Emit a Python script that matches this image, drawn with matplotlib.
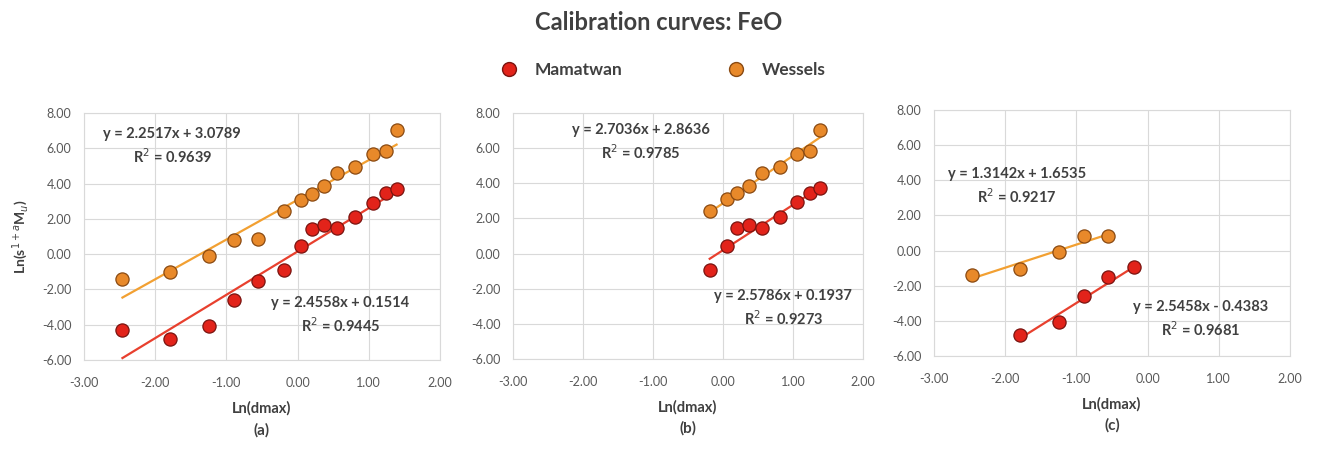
import matplotlib
matplotlib.use("Agg")
import matplotlib.pyplot as plt
from matplotlib.lines import Line2D
import numpy as np

plt.rcParams['font.family'] = ['Lato', 'DejaVu Sans']

# ln(dmax) of each size class
ln_dmax = [-2.46, -1.79, -1.25, -0.90, -0.55, -0.19, 0.05, 0.20, 0.37, 0.56, 0.81, 1.06, 1.24, 1.39]
wessels = [-1.41, -1.03, -0.10, 0.82, 0.85, 2.43, 3.08, 3.42, 3.84, 4.61, 4.94, 5.66, 5.85, 7.03]
mamatwan = [-4.31, -4.79, -4.07, -2.60, -1.52, -0.91, 0.44, 1.44, 1.63, 1.48, 2.09, 2.91, 3.47, 3.72]

# index ranges used for each panel (start, stop)
panel_names = ['(a)', '(b)', '(c)']
mam_range = [(0, 14), (5, 14), (1, 6)]
wes_range = [(0, 14), (5, 14), (0, 5)]

# trendline coefficients (slope, intercept, r2) as printed on the chart
mam_fit = [(2.4558, 0.1514, 0.9445), (2.5786, 0.1937, 0.9273), (2.5458, -0.4383, 0.9681)]
wes_fit = [(2.2517, 3.0789, 0.9639), (2.7036, 2.8636, 0.9785), (1.3142, 1.6535, 0.9217)]

# label positions in data coords
mam_txt = [(0.60, -3.5), (0.86, -3.1), (0.75, -3.9)]
wes_txt = [(-1.76, 6.1), (-1.17, 6.3), (-1.84, 3.65)]

red_face, red_edge, red_line = '#e2231a', '#7a1410', '#e8402e'
org_face, org_edge, org_line = '#e8892a', '#8a4a12', '#f2a032'
txt_col = '#404040'

W, H = 1317, 450
fig = plt.figure(figsize=(W / 100, H / 100), dpi=100)

# axes boxes in pixels: left, right, top, bottom
boxes = [(84, 440, 113, 360), (513, 863, 113, 359), (934, 1290, 110, 356)]


def fmt_eq(m, b):
    sign = '+' if b >= 0 else '-'
    return 'y = %.4fx %s %.4f' % (m, sign, abs(b))


for i, (l, r, t, b) in enumerate(boxes):
    ax = fig.add_axes([l / W, 1 - b / H, (r - l) / W, (b - t) / H])
    ax.set_xlim(-3, 2)
    ax.set_ylim(-6, 8)
    ax.set_xticks(np.arange(-3, 2.1, 1))
    ax.set_yticks(np.arange(-6, 8.1, 2))
    ax.xaxis.set_major_formatter(matplotlib.ticker.FormatStrFormatter('%.2f'))
    ax.yaxis.set_major_formatter(matplotlib.ticker.FormatStrFormatter('%.2f'))
    ax.tick_params(length=0, labelsize=9, colors='#595959')
    ax.tick_params(axis='x', pad=12)
    ax.tick_params(axis='y', pad=9)
    ax.grid(True, color='#d9d9d9', lw=0.8)
    ax.set_axisbelow(True)
    for s in ax.spines.values():
        s.set_color('#d9d9d9')

    for vals, rng, fit, pos, fc, ec, lc in [
        (wessels, wes_range[i], wes_fit[i], wes_txt[i], org_face, org_edge, org_line),
        (mamatwan, mam_range[i], mam_fit[i], mam_txt[i], red_face, red_edge, red_line),
    ]:
        xs = np.array(ln_dmax[rng[0]:rng[1]])
        ys = np.array(vals[rng[0]:rng[1]])
        m, c, r2 = fit
        xl = np.array([xs.min(), xs.max()])
        ax.plot(xl, m * xl + c, color=lc, lw=1.6, zorder=2)
        ax.scatter(xs, ys, s=90, color=fc, edgecolors=ec, linewidths=0.9, zorder=3)
        ax.text(pos[0], pos[1], fmt_eq(m, c) + '\n' + 'R$^2$ = %.4f' % r2,
                ha='center', va='center', fontsize=10.5, fontweight='bold',
                color=txt_col, linespacing=1.4)

    ax.set_xlabel('Ln(dmax)', fontsize=10.5, fontweight='bold', color=txt_col, labelpad=9)
    ax.text(0.5, -0.283, panel_names[i], transform=ax.transAxes, ha='center', va='center',
            fontsize=11, fontweight='bold', color=txt_col)
    if i == 0:
        ax.set_ylabel(r'Ln(s$^{1+a}$M$_u$)', fontsize=10, fontweight='bold', color=txt_col, labelpad=8)

fig.text(0.5, 1 - 23 / H, 'Calibration curves: FeO', ha='center', va='center',
         fontsize=17, fontweight='bold', color='#404040')

handles = [
    Line2D([], [], marker='o', ls='', ms=10, markerfacecolor=red_face, markeredgecolor=red_edge, label='Mamatwan'),
    Line2D([], [], marker='o', ls='', ms=10, markerfacecolor=org_face, markeredgecolor=org_edge, label='Wessels'),
]
leg = fig.legend(handles=handles, loc='center', bbox_to_anchor=(0.5, 1 - 70 / H), ncol=2,
                 frameon=False, fontsize=12.5, columnspacing=5.5, handletextpad=0.5)
for t in leg.get_texts():
    t.set_fontweight('bold')
    t.set_color(txt_col)

fig.savefig('out.png', dpi=100)
